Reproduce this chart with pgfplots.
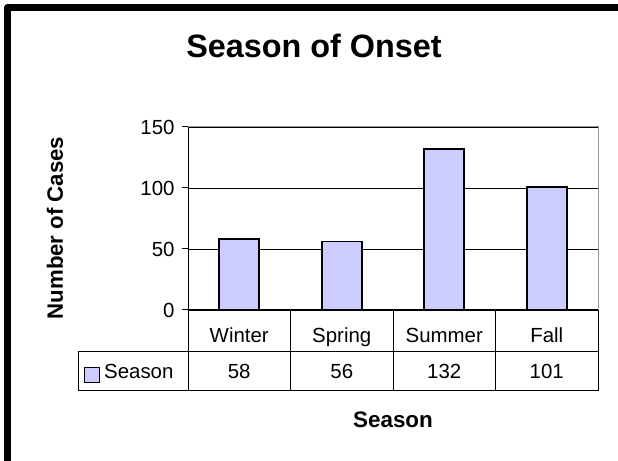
\documentclass[border=0pt]{standalone}
\usepackage{fontspec}
\setmainfont{Liberation Sans}
\usepackage{pgfplots}
\pgfplotsset{compat=1.18}
\definecolor{barfill}{HTML}{CCCCFF}
\definecolor{frameg}{gray}{0.6}

\begin{document}
\begin{tikzpicture}
\useasboundingbox (0,0) rectangle (618bp,461bp);
% outer chart frame (cut off at right and bottom)
\draw[line width=7bp, line join=round] (7.5bp,-10bp) -- (7.5bp,453.5bp) -- (630bp,453.5bp);

\begin{axis}[
  at={(188bp,151bp)}, anchor=south west,
  scale only axis, width=410bp, height=183bp,
  xmin=-0.5, xmax=3.5, ymin=0, ymax=150,
  clip=false,
  axis line style={draw=frameg, line width=1bp},
  xtick=data, xticklabels={Winter,Spring,Summer,Fall},
  x tick style={draw=none},
  xticklabel style={anchor=base, yshift=-26bp, inner sep=0pt},
  ytick={0,50,100,150}, ytick pos=left,
  yticklabel style={xshift=-4bp},
  tick align=outside, major tick length=6bp,
  y tick style={black, line width=1bp},
  ymajorgrids, major grid style={black, line width=0.8bp},
  ticklabel style={font=\fontsize{20.5}{24}\selectfont},
  /pgf/number format/assume math mode=true,
]
  \addplot[ybar, bar width=40bp, bar shift=0pt, fill=barfill, draw=black, line width=1.6bp]
    coordinates {(0,58) (1,56) (2,132) (3,101)};
  \draw[frameg, line width=1bp] (rel axis cs:0,1) -- (rel axis cs:1,1) -- (rel axis cs:1,0);
  \draw[black, line width=1bp] (rel axis cs:0,1) -- (rel axis cs:0,0) -- (rel axis cs:1,0);
\end{axis}

% data table below the plot
\begin{scope}[line width=1bp]
  \draw (78bp,109bp) -- (598bp,109bp);
  \draw (78bp,70bp) -- (598bp,70bp);
  \draw (78bp,109bp) -- (78bp,70bp);
  \foreach \xx in {188,290.5,393,495.5,598}
    \draw (\xx bp,151bp) -- (\xx bp,70bp);
  \draw[fill=barfill] (84bp,78bp) rectangle (99bp,93bp);
\end{scope}
\node[anchor=base west, inner sep=0pt, font=\fontsize{20.5}{24}\selectfont] at (104bp,82bp) {Season};
\foreach \xx/\vv in {239.25/58,341.75/56,444.25/132,546.75/101}
  \node[anchor=base, inner sep=0pt, font=\fontsize{20.5}{24}\selectfont] at (\xx bp,82bp) {\vv};

% titles
\node[anchor=base, inner sep=0pt, font=\bfseries\fontsize{32.5}{38}\selectfont] at (314bp,403bp) {Season of Onset};
\node[anchor=base, inner sep=0pt, font=\bfseries\fontsize{22.5}{26}\selectfont] at (393bp,34bp) {Season};
\node[rotate=90, inner sep=0pt, font=\bfseries\fontsize{22.3}{26}\selectfont] at (55bp,233bp) {Number of Cases};
\end{tikzpicture}
\end{document}
